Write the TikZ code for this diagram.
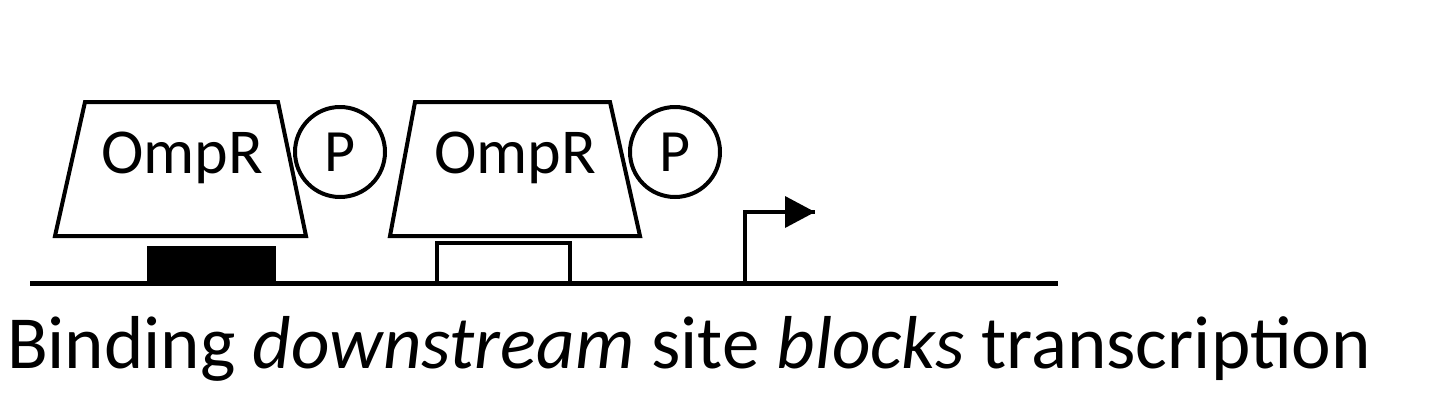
\documentclass[tikz,border=0pt]{standalone}
\usepackage{fontspec}
\setmainfont{Carlito}
\usetikzlibrary{arrows.meta}
\begin{document}
\begin{tikzpicture}[x=0.5pt,y=-0.5pt,line width=2pt,
  prot/.style={draw,line join=miter},
  phos/.style={draw,circle,minimum size=45pt,inner sep=0pt,font=\fontsize{30}{34}\selectfont},
  lbl/.style={font=\fontsize{32}{36}\selectfont}]
\useasboundingbox (0,0) rectangle (1440,414);
\draw[line width=2.5pt] (30,283) coordinate (l0) -- (1058,283) coordinate (l1);
\draw[prot] (85,102) -- (278,102) -- (306,236) -- (55,236) -- cycle;
\node[lbl] (o1) at (182,158) {OmpR};
\node[phos] (p1) at (340,152) {P};
\draw[prot] (415,102) -- (610,102) -- (640,236) -- (390,236) -- cycle;
\node[lbl] (o2) at (515,158) {OmpR};
\node[phos] (p2) at (675,152) {P};
\fill (147,246) rectangle (276,283);
\draw (437,243) rectangle (570,283);
\coordinate (pr) at (745,283);
\draw (pr) -- (745,212) -- (815,212);
\fill (785,196) -- (815,212) -- (785,228) -- cycle;
\node[font=\fontsize{37.5}{40}\selectfont,anchor=base west,inner sep=0pt] (cap) at (5,368)
 {Binding \textit{downstream} site \textit{blocks} transcription};
\end{tikzpicture}
\end{document}
